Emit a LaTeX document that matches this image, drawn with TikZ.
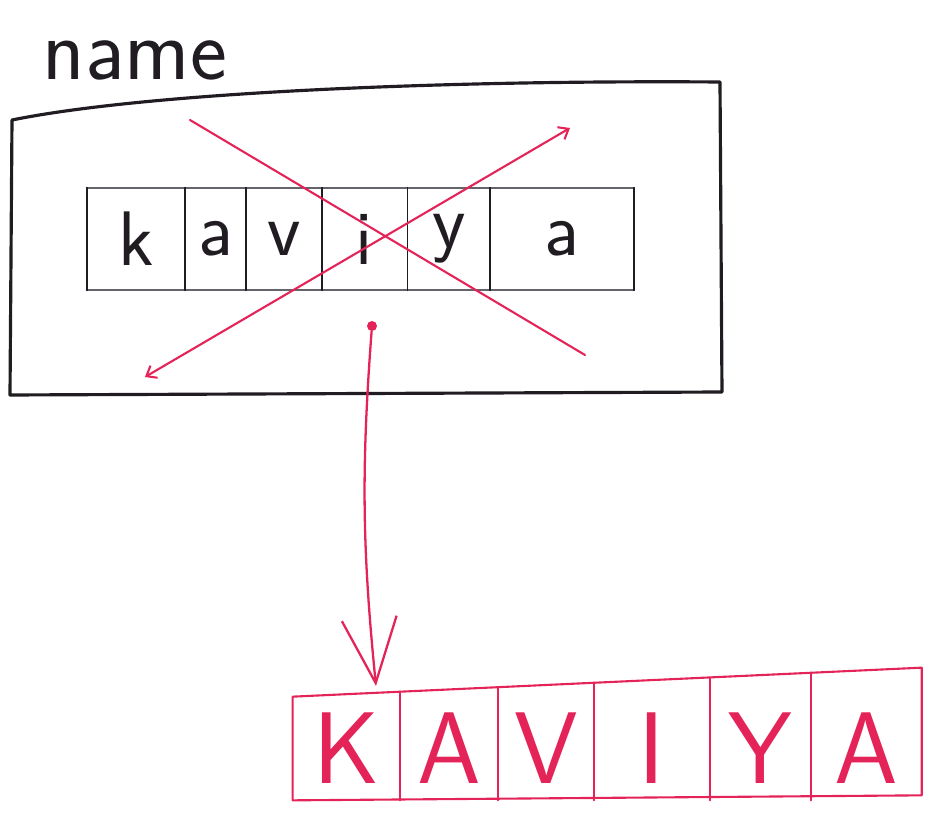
\documentclass[tikz,border=0pt]{standalone}
\usepackage{fontspec}
\usepackage{tikz}
\usetikzlibrary{arrows.meta,positioning}

\definecolor{pen}{RGB}{228,36,88}
\definecolor{ink}{RGB}{32,28,34}
\definecolor{graphite}{RGB}{100,100,106}

\begin{document}
\begin{tikzpicture}[x=0.02cm,y=-0.02cm,line cap=round,line join=round,
  letter/.style={inner sep=0pt,minimum height=2.04cm,font=\sffamily\fontsize{44}{48}\selectfont,text=ink},
  capital/.style={inner sep=0pt,minimum height=2.06cm,font=\sffamily\fontsize{58}{62}\selectfont,text=pen},
  strike/.style={pen,line width=1.2pt},
  barb/.tip={Straight Barb[length=5pt,width=8pt]}]

    \useasboundingbox (0,0) rectangle (931,814);

    \node[anchor=base,inner sep=0pt,font=\sffamily\fontsize{50}{54}\selectfont,text=ink] (title) at (135,80) {name};

    \draw[ink,line width=1.8pt] (12,120) .. controls (150,92) and (450,80) .. (720,82)
      -- (722,392) -- (10,395) -- cycle;

    \node[letter,minimum width=1.96cm] (t1) at (136,239) {k};
    \node[letter,minimum width=1.2cm,right=0pt of t1] (t2) {a};
    \node[letter,minimum width=1.5cm,right=0pt of t2] (t3) {v};
    \node[letter,minimum width=1.7cm,right=0pt of t3] (t4) {i};
    \node[letter,minimum width=1.64cm,right=0pt of t4] (t5) {y};
    \node[letter,minimum width=2.86cm,right=0pt of t5] (t6) {a};

    \draw[graphite,line width=1pt] (t1.north west) -- (t6.north east);
    \draw[graphite,line width=1pt] (t1.south west) -- (t6.south east);
    \draw[ink,line width=1pt] (t1.north west) -- (t1.south west);
    \draw[ink,line width=1pt] (t1.north east) -- (t1.south east);
    \draw[ink,line width=1pt] (t2.north east) -- (t2.south east);
    \draw[ink,line width=1pt] (t3.north east) -- (t3.south east);
    \draw[ink,line width=1pt] (t4.north east) -- (t4.south east);
    \draw[ink,line width=1pt] (t5.north east) -- (t5.south east);
    \draw[ink,line width=1pt] (t6.north east) -- (t6.south east);

    \coordinate (xa) at (190,120);
    \coordinate (xb) at (585,355);
    \coordinate (xc) at (145,377);
    \coordinate (xd) at (570,128);
    \draw[strike] (xa) -- (xb);
    \draw[strike,barb-barb] (xc) -- (xd);

    \node[circle,fill=pen,inner sep=0pt,minimum size=0.2cm] (dot) at (372,326) {};
    \coordinate (tip) at (376,686);
    \draw[pen,line width=1.3pt,-{Straight Barb[length=1.3cm,width=1.1cm]}] (dot) to[bend right=5] (tip);

    \node[capital,minimum width=2.14cm] (b1) at (346.5,748.5) {K};
    \node[capital,minimum width=1.94cm,right=0pt of b1] (b2) {A};
    \node[capital,minimum width=1.9cm,right=0pt of b2] (b3) {V};
    \node[capital,minimum width=2.32cm,right=0pt of b3] (b4) {I};
    \node[capital,minimum width=2cm,right=0pt of b4] (b5) {Y};
    \node[capital,minimum width=2.2cm,right=0pt of b5] (b6) {A};

    \draw[pen,line width=1.2pt] (b1.south west) -- ([yshift=0.1cm]b6.south east)
      -- ([yshift=0.58cm]b6.north east) -- (b1.north west) -- cycle;
    \draw[pen,line width=1.2pt] ([yshift=0.1cm]b1.north east) -- (b1.south east);
    \draw[pen,line width=1.2pt] ([yshift=0.19cm]b2.north east) -- (b2.south east);
    \draw[pen,line width=1.2pt] ([yshift=0.28cm]b3.north east) -- (b3.south east);
    \draw[pen,line width=1.2pt] ([yshift=0.38cm]b4.north east) -- (b4.south east);
    \draw[pen,line width=1.2pt] ([yshift=0.48cm]b5.north east) -- (b5.south east);
\end{tikzpicture}
\end{document}
